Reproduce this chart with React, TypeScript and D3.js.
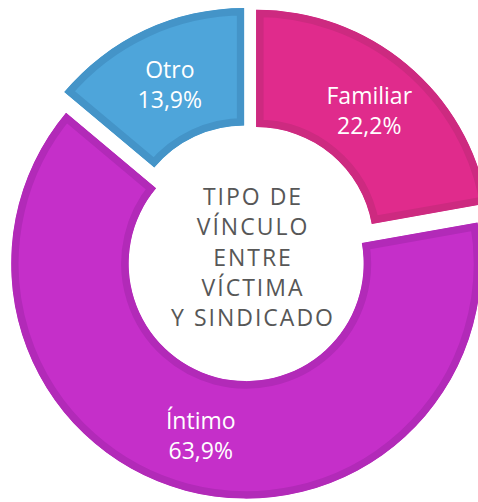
import React from "react";
import * as d3 from "d3";

const categories = ["Familiar", "Íntimo", "Otro"];
const values = [22.2, 63.9, 13.9];
const valueLabels = ["22,2%", "63,9%", "13,9%"];
const fills = ["#e02b8c", "#c52fc9", "#4ea5da"];
const strokes = ["#cd2a80", "#b22ab8", "#4494c8"];
const centerLines = ["TIPO DE", "VÍNCULO", "ENTRE", "VÍCTIMA", "Y SINDICADO"];

const W = 478;
const H = 502;
const CX = 249;
const CY = 253;
const R = 235;
const RI = 117.5;
const EXPLODE = 11;
const BAND = 7.5;

export default function App() {
  const pie = d3
    .pie<number>()
    .sort(null)
    .startAngle(0)
    .endAngle(2 * Math.PI)
    .value((d) => d);
  const arcs = pie(values);
  const arc = d3.arc<d3.PieArcDatum<number>>().innerRadius(RI).outerRadius(R);

  return (
    <svg
      width={W}
      height={H}
      style={{ position: "absolute", left: 0, top: 0, background: "#fff" }}
    >
      <defs>
        {arcs.map((a, i) => (
          <clipPath id={`clip-${i}`} key={i}>
            <path d={arc(a) || ""} />
          </clipPath>
        ))}
      </defs>
      {arcs.map((a, i) => {
        const mid = (a.startAngle + a.endAngle) / 2;
        const dx = Math.sin(mid) * EXPLODE;
        const dy = -Math.cos(mid) * EXPLODE;
        const [lx, ly] = arc.centroid(a);
        return (
          <g key={i} transform={`translate(${CX + dx},${CY + dy})`}>
            <path
              d={arc(a) || ""}
              fill={fills[i]}
              stroke={strokes[i]}
              strokeWidth={BAND * 2}
              clipPath={`url(#clip-${i})`}
            />
            <text
              x={lx}
              y={ly - 5}
              textAnchor="middle"
              fill="#fff"
              fontFamily="'Open Sans', sans-serif"
              fontSize={23}
            >
              {categories[i]}
            </text>
            <text
              x={lx}
              y={ly + 25}
              textAnchor="middle"
              fill="#fff"
              fontFamily="'Open Sans', sans-serif"
              fontSize={23}
            >
              {valueLabels[i]}
            </text>
          </g>
        );
      })}
      <g transform={`translate(${253},${205})`}>
        {centerLines.map((t, i) => (
          <text
            key={i}
            x={0}
            y={i * 30.3}
            textAnchor="middle"
            fill="#575757"
            fontFamily="'Open Sans', sans-serif"
            fontSize={23}
            letterSpacing={2}
          >
            {t}
          </text>
        ))}
      </g>
    </svg>
  );
}
